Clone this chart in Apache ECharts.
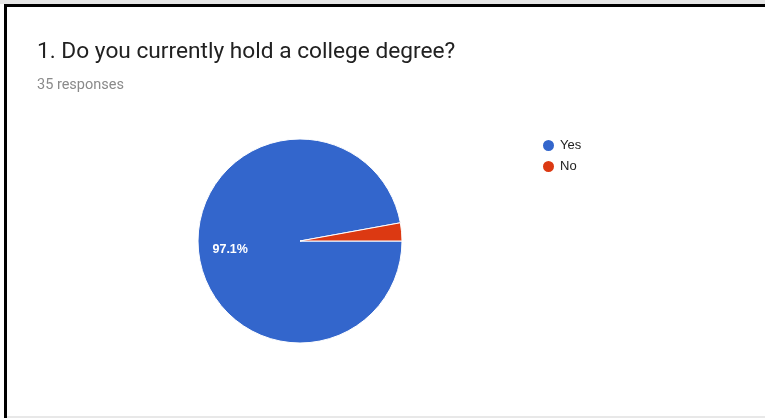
<!DOCTYPE html>
<html>
<head>
<meta charset="utf-8">
<script src="https://cdn.jsdelivr.net/npm/echarts@6/dist/echarts.min.js"></script>
<style>
html,body{margin:0;padding:0;background:#fff;}
#chart{width:765px;height:418px;}
</style>
</head>
<body>
<div id="chart"></div>
<script>
const titleText = '1. Do you currently hold a college degree?';
const subtitleText = '35 responses';
const categories = ['Yes', 'No'];
const counts = [34, 1];
const colors = ['#3366CC', '#DC3912'];

const chart = echarts.init(document.getElementById('chart'));
const pieData = categories.map((c, i) => ({
  name: c,
  value: counts[i],
  itemStyle: { color: colors[i] },
  label: { show: i === 0 }
}));

chart.setOption({
  animation: false,
  backgroundColor: '#ffffff',
  graphic: [
    { type: 'rect', shape: { x: 0, y: 0, width: 765, height: 4 }, style: { fill: '#e6e6e6' } },
    { type: 'rect', shape: { x: 4, y: 4, width: 761, height: 3 }, style: { fill: '#000' } },
    { type: 'rect', shape: { x: 4, y: 4, width: 3, height: 414 }, style: { fill: '#000' } },
    { type: 'rect', shape: { x: 7, y: 416, width: 758, height: 2 }, style: { fill: '#e8e8e8' } }
  ],
  title: [
    { text: titleText, left: 32, top: 36,
      textStyle: { fontFamily: 'Roboto', fontSize: 22.7, fontWeight: 'normal', color: '#212121' } },
    { text: subtitleText, left: 32, top: 73,
      textStyle: { fontFamily: 'Roboto', fontSize: 14.5, fontWeight: 'normal', color: '#8a8a8a' } }
  ],
  legend: {
    orient: 'vertical',
    left: 536,
    top: 133,
    icon: 'circle',
    itemWidth: 13,
    itemHeight: 13,
    itemGap: 6,
    data: categories,
    textStyle: { fontFamily: 'Arial, Liberation Sans', fontSize: 13, color: '#222', padding: [0,0,0,0] }
  },
  series: [{
    type: 'pie',
    center: [300, 241],
    radius: 102,
    startAngle: 0,
    clockwise: true,
    percentPrecision: 1,
    avoidLabelOverlap: false,
    itemStyle: { borderColor: '#fff', borderWidth: 1 },
    label: {
      position: 'inside',
      formatter: '{d}%',
      color: '#fff',
      fontFamily: 'Arial, Liberation Sans',
      fontSize: 12.5,
      fontWeight: 'bold',
      offset: [-16, 4]
    },
    labelLine: { show: false },
    emphasis: { disabled: true },
    data: pieData
  }]
});
</script>
</body>
</html>
